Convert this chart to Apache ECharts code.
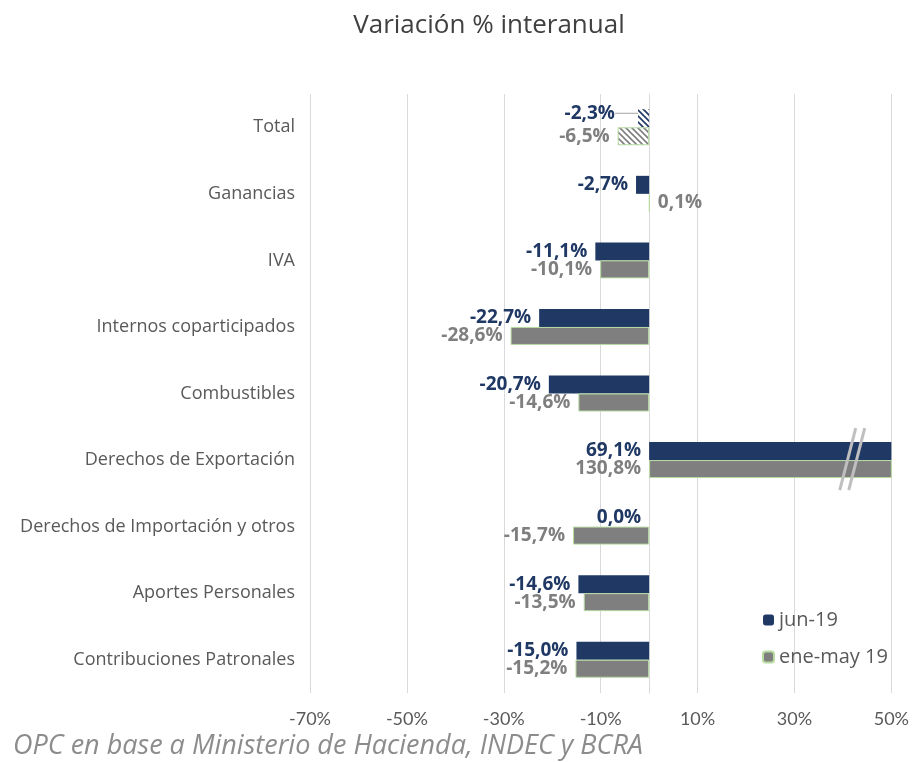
<!DOCTYPE html>
<html>
<head>
<meta charset="utf-8">
<script src="https://cdn.jsdelivr.net/npm/echarts@6/dist/echarts.min.js"></script>
<style>
  html, body { margin: 0; padding: 0; background: #fff; }
  #chart { width: 912px; height: 762px; }
</style>
</head>
<body>
<div id="chart"></div>
<script>
const categories = [
  'Total', 'Ganancias', 'IVA', 'Internos coparticipados', 'Combustibles',
  'Derechos de Exportación', 'Derechos de Importación y otros',
  'Aportes Personales', 'Contribuciones Patronales'
]
const jun19 = [-2.3, -2.7, -11.1, -22.7, -20.7, 69.1, 0.0, -14.6, -15.0]
const eneMay19 = [-6.5, 0.1, -10.1, -28.6, -14.6, 130.8, -15.7, -13.5, -15.2]
const seriesNames = ['jun-19', 'ene-may 19']
const axisMin = -70
const axisMax = 50

const NAVY = '#1f3864'
const GREY = '#7f7f7f'
const FONT = 'Open Sans'

// diagonal hatch used for the "Total" row
function hatch(bg, fg) {
  const c = document.createElement('canvas')
  c.width = 6
  c.height = 6
  const ctx = c.getContext('2d')
  ctx.fillStyle = bg
  ctx.fillRect(0, 0, 6, 6)
  ctx.strokeStyle = fg
  ctx.lineWidth = 1.6
  ctx.beginPath()
  ctx.moveTo(-1, -1); ctx.lineTo(7, 7)
  ctx.moveTo(-4, 2); ctx.lineTo(4, 10)
  ctx.moveTo(2, -4); ctx.lineTo(10, 4)
  ctx.stroke()
  return { image: c, repeat: 'repeat' }
}

const fmt = v => v.toFixed(1).replace('.', ',') + '%'

function buildData(values, pattern) {
  return values.map((v, i) => {
    if (i === 0) return { value: v, itemStyle: { color: pattern } }
    // small positive value keeps its label on the right, like the source
    if (v > 0 && v < 5) return { value: v, label: { position: 'right' } }
    return v
  })
}

const chart = echarts.init(document.getElementById('chart'))

const labelStyle = color => ({
  show: true,
  position: 'left',
  distance: 8,
  formatter: p => fmt(p.value),
  fontSize: 19, fontWeight: 'bold', color: color, fontFamily: FONT
})

const junData = buildData(jun19, hatch('#ffffff', NAVY))
junData[0].labelLine = { show: true, lineStyle: { color: '#a6a6a6', width: 1 } }

const option = {
  animation: false,
  textStyle: { fontFamily: FONT },
  title: [
    {
      text: 'Variación % interanual',
      left: 484, top: 8, textAlign: 'center',
      textStyle: { fontSize: 26, fontWeight: 'normal', color: '#404040', fontFamily: FONT }
    },
    {
      text: 'OPC en base a Ministerio de Hacienda, INDEC y BCRA',
      left: 8, top: 728,
      textStyle: { fontSize: 27, fontWeight: 'normal', fontStyle: 'italic', color: '#8c8c8c', fontFamily: FONT }
    }
  ],
  legend: {
    orient: 'vertical',
    left: 757, top: 605,
    itemWidth: 11, itemHeight: 11,
    itemGap: 17,
    textStyle: { fontSize: 20, color: '#595959', fontFamily: FONT },
    data: seriesNames
  },
  grid: { left: 310, right: 19, top: 94, bottom: 69 },
  xAxis: {
    type: 'value',
    min: axisMin,
    max: axisMax,
    interval: 10,
    axisLine: { show: false },
    axisTick: { show: false },
    axisLabel: {
      fontSize: 18, color: '#595959', margin: 17, fontFamily: 'Lato',
      formatter: v => ((v - axisMin) % 20 === 0 ? v + '%' : '')
    },
    splitLine: { lineStyle: { color: ['#d9d9d9', 'rgba(0,0,0,0)'], width: 1 } }
  },
  yAxis: {
    type: 'category',
    data: categories,
    inverse: true,
    axisLine: { lineStyle: { color: '#d9d9d9' } },
    axisTick: { show: false },
    axisLabel: { fontSize: 18, color: '#595959', margin: 15, fontFamily: FONT }
  },
  series: [
    {
      name: seriesNames[0],
      type: 'bar',
      barWidth: 18,
      barGap: '0%',
      data: junData,
      itemStyle: { color: NAVY },
      label: labelStyle(NAVY),
      labelLayout: p => (p.dataIndex === 0 ? { dx: -15, dy: -5 } : {})
    },
    {
      name: seriesNames[1],
      type: 'bar',
      barWidth: 18,
      barGap: '0%',
      data: buildData(eneMay19, hatch('#ffffff', GREY)),
      itemStyle: { color: GREY, borderColor: '#b7dba0', borderWidth: 1 },
      label: labelStyle(GREY)
    }
  ]
}

chart.setOption(option)

// axis break marks on the clipped "Derechos de Exportación" bars
const brk = chart.convertToPixel({ gridIndex: 0 }, [41, 'Derechos de Exportación'])
const breakLines = [0, 9].map(dx => ({
  type: 'line',
  shape: { x1: brk[0] + dx + 8, y1: brk[1] - 32, x2: brk[0] + dx - 8, y2: brk[1] + 30 },
  style: { stroke: '#bfbfbf', lineWidth: 3 },
  z: 100
}))
chart.setOption({ graphic: breakLines })

window.addEventListener('resize', () => chart.resize())
</script>
</body>
</html>
